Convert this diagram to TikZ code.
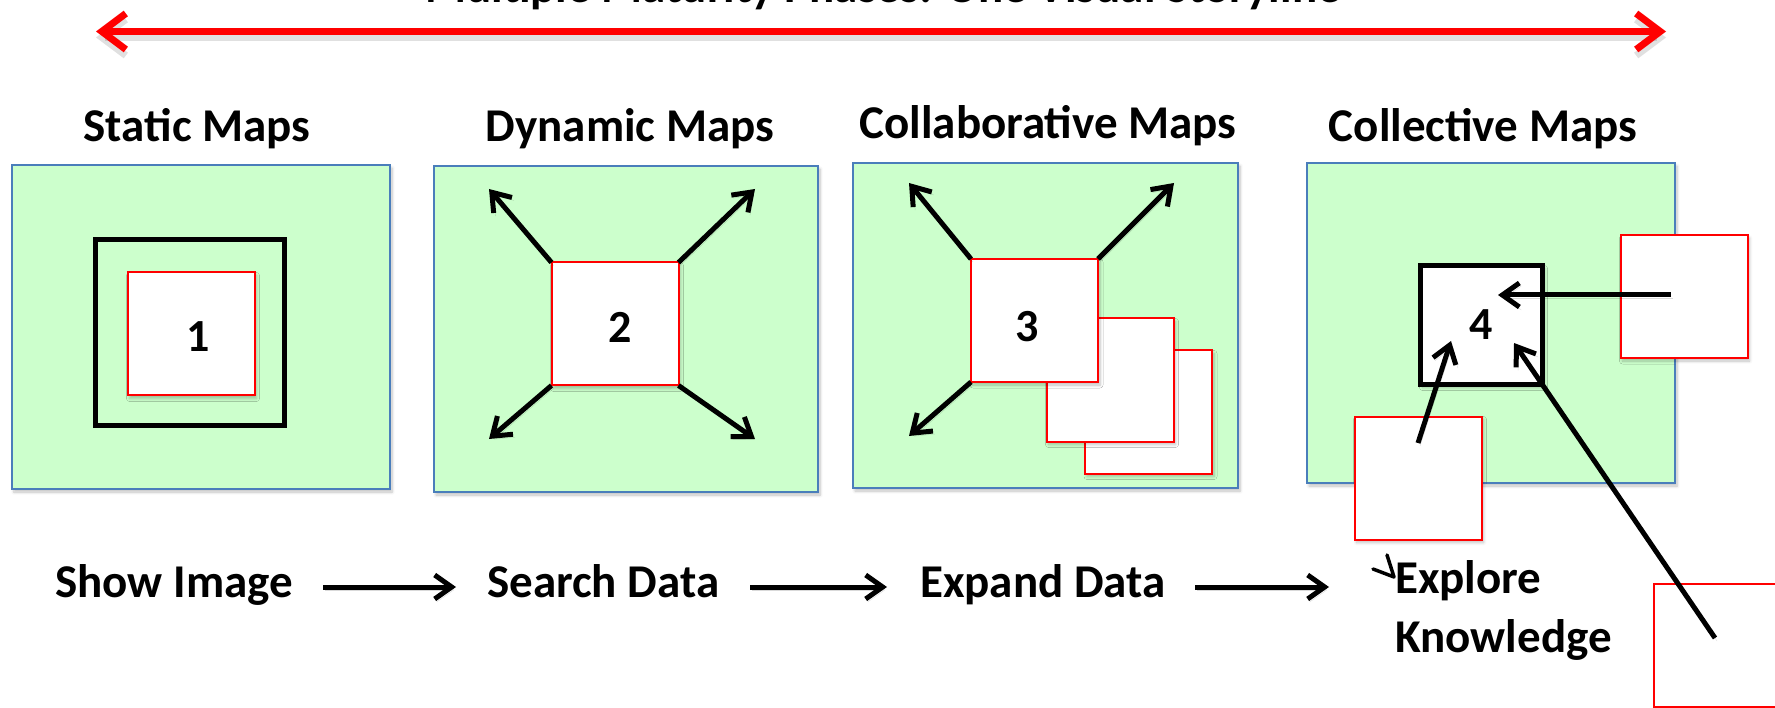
\documentclass[tikz,border=0pt]{standalone}
\usepackage{fontspec}
\setmainfont{Carlito}
\usetikzlibrary{arrows.meta,shadows.blur}
\definecolor{mgreen}{RGB}{204,255,204}
\definecolor{mblue}{RGB}{74,126,187}
\definecolor{mred}{RGB}{255,0,0}
\tikzset{
 sh/.style={blur shadow={shadow xshift=2pt, shadow yshift=-3pt, shadow blur radius=3pt, shadow blur steps=6, shadow opacity=25}},
 greenbox/.style={draw=mblue, line width=2pt, fill=mgreen, sh, inner sep=0pt, outer sep=0pt},
 redbox/.style={draw=mred, line width=2pt, fill=white, sh, minimum width=127pt, minimum height=123pt, inner sep=0pt, outer sep=0pt},
 blackbox/.style={draw=black, line width=5pt, inner sep=0pt, outer sep=0pt},
 title/.style={font=\fontsize{47pt}{56pt}\selectfont\bfseries, inner sep=0pt, anchor=base},
 num/.style={font=\fontsize{46pt}{56pt}\selectfont\bfseries, inner sep=0pt},
 lab/.style={font=\fontsize{47pt}{56pt}\selectfont\bfseries, inner sep=0pt, anchor=base west},
 arrsh/.style={preaction={draw=black, opacity=0.15, transform canvas={xshift=2pt,yshift=-3pt}}},
 arr/.style={line width=5pt, -{Straight Barb[length=17pt,width=24pt]}, arrsh},
}
\begin{document}
\begin{tikzpicture}[x=1pt,y=-1pt]
\useasboundingbox (0,0) rectangle (1775,708);
\clip (0,0) rectangle (1775,708);

% top storyline arrow
\node[title] (top) at (883,3) {Multiple Maturity Phases: One Visual Storyline};
\coordinate (tl) at (96,31.5);
\coordinate (tr) at (1666,31.5);
\draw[line width=7pt, black, opacity=0.12, transform canvas={yshift=-6pt},
  {Straight Barb[length=24pt,width=36pt]}-{Straight Barb[length=24pt,width=36pt]}] (tl) -- (tr);
\draw[line width=7pt, mred,
  {Straight Barb[length=24pt,width=36pt]}-{Straight Barb[length=24pt,width=36pt]}] (tl) -- (tr);

% titles
\node[title] (t1) at (197,142) {Static Maps};
\node[title] (t2) at (630,142) {Dynamic Maps};
\node[title] (t3) at (1048,139) {Collaborative Maps};
\node[title] (t4) at (1483,142) {Collective Maps};

% panel 1
\node[greenbox, minimum width=378pt, minimum height=324pt] (g1) at (201,327) {};
\node[blackbox, minimum width=189pt, minimum height=186pt] (k1) at (190,332.5) {};
\node[redbox] (r1) at (191,334) {};
\node[num] (n1) at (198,337) {1};

% panel 2
\node[greenbox, minimum width=384pt, minimum height=326pt] (g2) at (626,329) {};
\node[redbox] (r2) at (615,324) {};
\node[num] (n2) at (620,327) {2};
\coordinate (a2tl) at (489,189);
\coordinate (a2tr) at (755,189);
\coordinate (a2bl) at (489,439);
\coordinate (a2br) at (755,439);
\draw[arr] (r2.north west) -- (a2tl);
\draw[arr] (r2.north east) -- (a2tr);
\draw[arr] (r2.south west) -- (a2bl);
\draw[arr] (r2.south east) -- (a2br);

% panel 3
\node[greenbox, minimum width=385pt, minimum height=325pt] (g3) at (1045.5,325.5) {};
\node[redbox] (r3c) at (1148.5,412) {};
\node[redbox] (r3b) at (1110,380) {};
\node[redbox] (r3a) at (1034.5,320.5) {};
\node[num] (n3) at (1027,327) {3};
\coordinate (a3tl) at (909,183);
\coordinate (a3tr) at (1174,183);
\coordinate (a3bl) at (909,436);
\draw[arr] (r3a.north west) -- (a3tl);
\draw[arr] (r3a.north east) -- (a3tr);
\draw[arr] (r3a.south west) -- (a3bl);

% panel 4
\node[greenbox, minimum width=368pt, minimum height=320pt] (g4) at (1491,323) {};
\node[blackbox, fill=white, sh, minimum width=122pt, minimum height=119pt] (k4) at (1481.5,325) {};
\node[redbox] (r4r) at (1684,296.5) {};
\node[redbox] (r4bl) at (1418,478) {};
\node[redbox] (r4br) at (1717,645) {};
\node[num] (n4) at (1481,325) {4};
\coordinate (c4s1) at (1671,295);
\coordinate (c4e1) at (1498,295);
\coordinate (c4s2) at (1418,443);
\coordinate (c4e2) at (1451,341);
\coordinate (c4s3) at (1715,638);
\coordinate (c4e3) at (1514,343);
\draw[arr] (c4s1) -- (c4e1);
\draw[arr] (c4s2) -- (c4e2);
\draw[arr] (c4s3) -- (c4e3);

% bottom storyline
\node[lab] (s1) at (55,597) {Show Image};
\node[lab] (s2) at (487,597) {Search Data};
\node[lab] (s3) at (920,597) {Expand Data};
\node[lab] (s4) at (1395,593) {Explore};
\node[lab] (s5) at (1395,652) {Knowledge};
\coordinate (b1s) at (323,587);
\coordinate (b1e) at (456,587);
\coordinate (b2s) at (750,587);
\coordinate (b2e) at (887,587);
\coordinate (b3s) at (1195,587);
\coordinate (b3e) at (1329,587);
\draw[arr] (b1s) -- (b1e);
\draw[arr] (b2s) -- (b2e);
\draw[arr] (b3s) -- (b3e);

% stray tip near Explore
\coordinate (st0) at (1373,569);
\coordinate (st1) at (1394,577);
\coordinate (st2) at (1387,555);
\draw[line width=3.5pt, line cap=round, line join=round] (st0) -- (st1) -- (st2);
\end{tikzpicture}
\end{document}
